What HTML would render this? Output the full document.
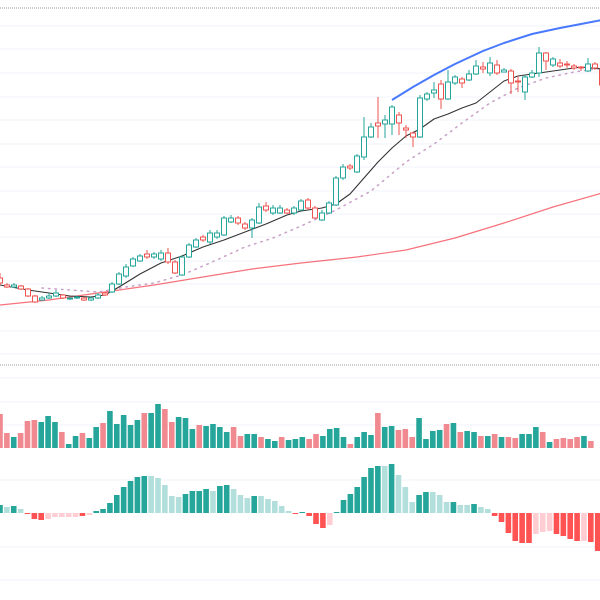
<!DOCTYPE html>
<html><head><meta charset="utf-8"><style>
html,body{margin:0;padding:0;background:#fff;}
svg{display:block;font-family:"Liberation Sans",sans-serif;}
</style></head><body>
<svg id="chart" width="600" height="600" viewBox="0 0 600 600">
<g id="grid"></g>
<g id="lines"></g>
<g id="candles"></g>
<g id="volume"></g>
<g id="macd"></g>
</svg>
<script>
const opens=[122,115,113,114,111,104,100,102,104,105,101,102,102,100,102,107,108,116,124,134,139,146,143,141,147,138,125,143,153,163,158,163,165,178,182,176,172,177,194,187,187,190,187,190,200,192,180,187,195,222,234,228,243,263,277,276,276,285,272,267,263,301,307,316,301,317,321,320,326,333,327,335,328,329,319,308,323,327,347,335,337,336,334,333,329,336,330];
const closes=[117,113,115,111,104,98,102,104,107,102,102,103,100,102,105,105,116,126,133,141,144,143,146,147,138,127,143,155,160,160,167,167,182,182,177,172,180,193,190,192,192,187,192,199,192,182,187,197,222,233,232,244,263,273,274,280,293,277,270,263,302,306,310,301,318,323,317,326,334,331,337,327,330,317,318,323,327,347,339,341,334,335,332,332,336,332,315];
const highs=[127,117,117,115,112,105,104,107,110,106,103,104,103,103,107,108,118,128,136,143,146,150,148,150,152,140,145,157,162,165,170,170,184,185,184,178,182,197,198,195,195,192,194,201,202,194,190,199,224,236,236,246,283,277,303,285,295,288,275,268,305,308,318,320,330,325,323,330,340,338,343,340,332,331,324,325,330,353,348,343,341,339,336,334,342,338,334];
const lows=[115,112,112,110,103,97,99,101,103,101,100,101,99,99,101,104,107,115,122,133,138,141,141,139,136,126,124,142,152,158,156,161,164,177,175,170,162,176,188,185,186,186,185,189,190,181,179,186,194,220,230,227,240,262,262,262,265,265,262,253,262,299,302,291,300,315,312,319,325,327,324,325,328,306,308,300,322,323,330,333,332,332,330,329,328,330,313];
const volumes=[34,15,11,15,27,28,26,32,26,16,4,12,15,10,21,25,37,24,33,23,28,35,35,44,39,26,31,30,19,23,22,24,21,16,21,12,14,14,11,9,7,11,8,9,11,9,14,12,19,20,11,4,11,16,13,35,21,22,18,19,11,30,9,17,18,24,25,16,17,16,12,12,14,11,11,10,14,14,21,16,6,9,10,9,11,12,7];
const volumeUp=[0,0,1,0,0,0,1,1,1,0,1,1,0,1,1,0,1,1,1,1,1,0,1,1,0,0,1,1,1,0,1,1,1,1,0,0,1,1,0,1,1,0,1,1,1,0,0,1,1,1,1,0,1,1,1,0,1,1,0,0,0,1,1,1,1,0,1,0,1,1,0,1,0,1,0,0,1,1,1,0,1,0,0,0,0,1,0];
const macdHist=[8,6,7,4,-1,-6,-7,-6,-4,-4,-4,-4,-3,-2,2,4,10,18,26,32,36,37,37,35,28,17,16,19,22,22,24,22,27,28,24,18,15,17,17,14,12,7,2,-1,1,-3,-11,-15,-12,1,13,19,26,36,45,47,47,49,38,26,11,18,21,21,18,11,11,8,8,9,6,4,-3,-9,-20,-28,-30,-30,-21,-19,-18,-21,-23,-26,-28,-28,-29,-38];
const macdStrong=[1,0,1,0,1,1,1,0,0,0,0,0,1,0,1,1,1,1,1,1,1,1,0,0,0,0,0,1,1,1,1,0,1,1,0,0,0,1,0,0,0,0,0,1,1,1,1,1,0,1,1,1,1,1,1,1,0,1,0,0,0,1,1,0,0,0,1,0,0,1,0,0,1,1,1,1,1,1,0,0,0,1,1,1,1,0,1,1];
const maFastIdx=[0,4,7,10,13,15,17,20,23,26,29,32,35,38,41,43,46,48,50,52,54,56,58,60,62,64,66,68,70,72,74,77,80,83,86];
const maFastVal=[115,110,107,104,103,105,113,126,137,144,153,160,168,176,185,189,192,196,206,222,238,252,264,271,281,286,292,297,308,319,324,327,330,333,331];
const maSlowIdx=[6,10,14,18,22,26,30,35,39,43,48,53,58,62,66,70,74,78,82,86];
const maSlowVal=[112,110,108,113,117,125,137,153,162,174,190,209,238,256,277,297,312,322,328,332];
const maLongIdx=[0,7,14,22,29,36,43,51,58,65,72,79,86];
const maLongVal=[95,100,107,115,123,131,137,143,150,162,177,193,207];
const trendIdx=[56,59,62,65,69,72,76,80,83,86];
const trendVal=[300,313,325,336,349,357,366,372,376,380];

const NS="http://www.w3.org/2000/svg";
const pitch=7, x0=0, lowerPitch=6.87;
const xS=i=>x0+i*pitch;
const xL=i=>x0+i*lowerPitch;
const yP=p=>400-p;
const yV=v=>448-v;
const yM=v=>513-v;
function mk(tag,attrs,parent){const e=document.createElementNS(NS,tag);for(const k in attrs)e.setAttribute(k,attrs[k]);parent.appendChild(e);return e;}
const G=document.getElementById('grid');
[26,49,73,97,120,144,167,191,214,237,261,284,307,331,354,378,402,425,480,547,580].forEach(y=>{
 const l=mk('line',{x1:0,x2:600,y1:y,y2:y,stroke:'#f0f3fa','stroke-width':1},G);
 
 
});
[8,365].forEach(y=>{
 const l=mk('line',{x1:0,x2:600,y1:y,y2:y,stroke:'#9598a1','stroke-width':1,'stroke-dasharray':'1 1'},G);
 
 
});
const L=document.getElementById('lines');
function line(idx,val,attrs,name){
 const pts=idx.map((i,k)=>xS(i).toFixed(1)+','+yP(val[k]).toFixed(1)).join(' ');
 const p=mk('polyline',Object.assign({points:pts,fill:'none','stroke-linejoin':'round'},attrs),L);
 
 
}
line(maLongIdx,maLongVal,{stroke:'#f23645','stroke-opacity':0.7,'stroke-width':1.2},'long-moving-average');
line(maSlowIdx,maSlowVal,{stroke:'#c8a0c8','stroke-width':1.5,'stroke-dasharray':'1.5 5','stroke-linecap':'round'},'slow-moving-average');
line(maFastIdx,maFastVal,{stroke:'#333','stroke-width':1.1},'fast-moving-average');
line(trendIdx,trendVal,{stroke:'#2962ff','stroke-width':2,'stroke-opacity':0.85},'trend-line');
const C=document.getElementById('candles');
opens.forEach((o,i)=>{
 const c=closes[i],up=c>=o,col=up?'#26a69a':'#ef5350',x=xS(i);
 const g=mk('g',{},C);
 
 
 const top=yP(Math.max(o,c)),bot=yP(Math.min(o,c));
 mk('line',{x1:x,x2:x,y1:yP(highs[i]),y2:top,stroke:col,'stroke-width':1},g);
 mk('line',{x1:x,x2:x,y1:bot,y2:yP(lows[i]),stroke:col,'stroke-width':1},g);
 mk('rect',{x:x-2.5,y:top,width:5,height:Math.max(1,bot-top),fill:'#fff',stroke:col,'stroke-width':1},g);
});
const V=document.getElementById('volume');
volumes.forEach((v,i)=>{
 const r=mk('rect',{x:xL(i)-2.8,y:yV(v),width:5.6,height:v,fill:volumeUp[i]?'#26a69a':'#f08a90'},V);
 
 
});
const M=document.getElementById('macd');
macdHist.forEach((v,i)=>{
 const s=macdStrong[i];
 const col=v>=0?(s?'#26a69a':'#b2dfdb'):(s?'#ff5252':'#ffcdd2');
 const r=mk('rect',{x:xL(i)-2.8,y:v>=0?yM(v):513,width:5.6,height:Math.max(1,Math.abs(v)),fill:col},M);
 
 
});
</script>
</body></html>
